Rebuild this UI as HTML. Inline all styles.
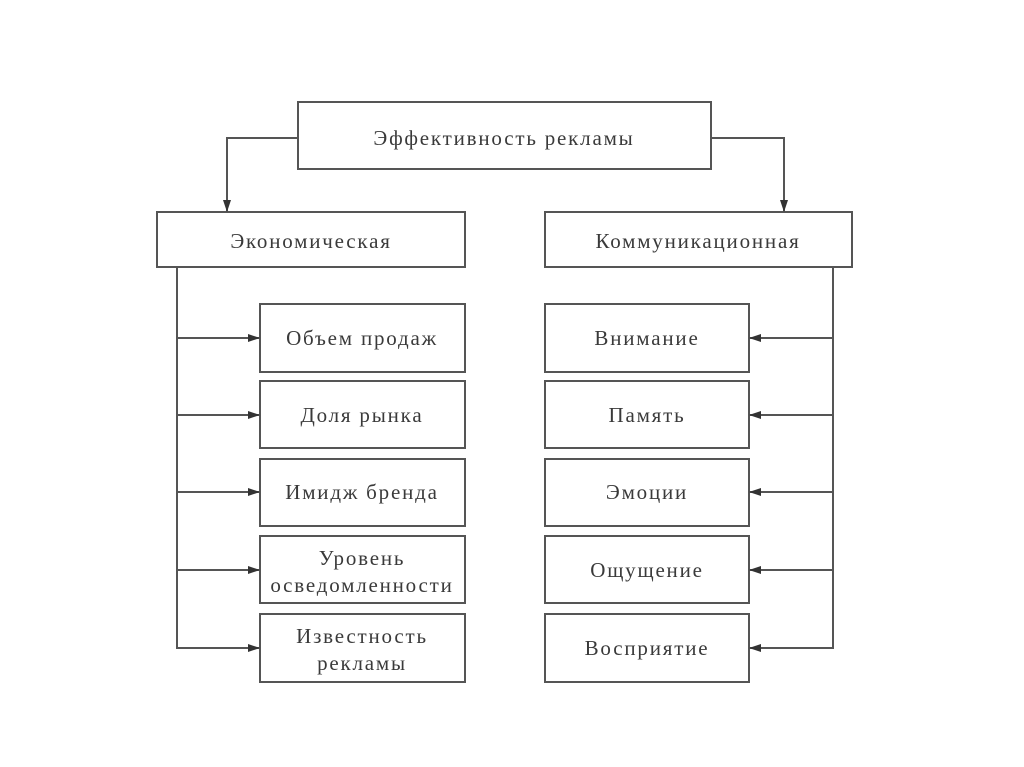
<!DOCTYPE html>
<html><head><meta charset="utf-8"><style>
html,body{margin:0;padding:0;background:#fff;}
svg{display:block;}
text{font-family:"Liberation Serif","DejaVu Serif",serif;font-size:21px;letter-spacing:1.8px;fill:#3a3a3a;text-anchor:middle;}
</style></head><body>
<svg width="1024" height="767" viewBox="0 0 1024 767">
<defs><marker id="a" markerWidth="12" markerHeight="8" refX="11" refY="4" orient="auto" markerUnits="userSpaceOnUse"><path d="M0,0 L12,4 L0,8 Z" fill="#333"/></marker></defs>
<g fill="none" stroke="#555" stroke-width="2">
<rect x="298" y="102" width="413" height="67"/>
<rect x="157" y="212" width="308" height="55"/>
<rect x="545" y="212" width="307" height="55"/>
<rect x="260" y="304" width="205" height="68"/>
<rect x="260" y="381" width="205" height="67"/>
<rect x="260" y="459" width="205" height="67"/>
<rect x="260" y="536" width="205" height="67"/>
<rect x="260" y="614" width="205" height="68"/>
<rect x="545" y="304" width="204" height="68"/>
<rect x="545" y="381" width="204" height="67"/>
<rect x="545" y="459" width="204" height="67"/>
<rect x="545" y="536" width="204" height="67"/>
<rect x="545" y="614" width="204" height="68"/>
<polyline points="298,138 227,138 227,211" marker-end="url(#a)"/>
<polyline points="711,138 784,138 784,211" marker-end="url(#a)"/>
<line x1="177" y1="267" x2="177" y2="649"/>
<line x1="833" y1="267" x2="833" y2="649"/>
<line x1="177" y1="338" x2="259" y2="338" marker-end="url(#a)"/>
<line x1="177" y1="415" x2="259" y2="415" marker-end="url(#a)"/>
<line x1="177" y1="492" x2="259" y2="492" marker-end="url(#a)"/>
<line x1="177" y1="570" x2="259" y2="570" marker-end="url(#a)"/>
<line x1="177" y1="648" x2="259" y2="648" marker-end="url(#a)"/>
<line x1="833" y1="338" x2="750" y2="338" marker-end="url(#a)"/>
<line x1="833" y1="415" x2="750" y2="415" marker-end="url(#a)"/>
<line x1="833" y1="492" x2="750" y2="492" marker-end="url(#a)"/>
<line x1="833" y1="570" x2="750" y2="570" marker-end="url(#a)"/>
<line x1="833" y1="648" x2="750" y2="648" marker-end="url(#a)"/>
</g>
<text x="504" y="145">Эффективность рекламы</text>
<text x="311" y="248">Экономическая</text>
<text x="698" y="248">Коммуникационная</text>
<text x="362" y="345">Объем продаж</text>
<text x="362" y="422">Доля рынка</text>
<text x="362" y="499">Имидж бренда</text>
<text x="362" y="565">Уровень</text>
<text x="362" y="592">осведомленности</text>
<text x="362" y="643">Известность</text>
<text x="362" y="670">рекламы</text>
<text x="647" y="345">Внимание</text>
<text x="647" y="422">Память</text>
<text x="647" y="499">Эмоции</text>
<text x="647" y="577">Ощущение</text>
<text x="647" y="655">Восприятие</text>
</svg>
</body></html>
